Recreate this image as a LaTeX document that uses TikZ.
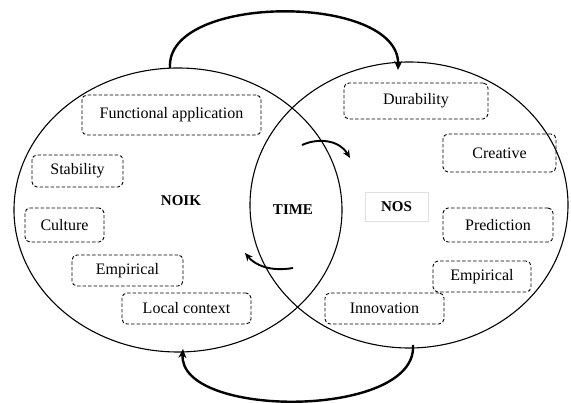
\documentclass[tikz,border=0pt]{standalone}
\usepackage{fontspec}
\setmainfont{Liberation Serif}
\usetikzlibrary{shapes.geometric,arrows.meta}
\begin{document}
\begin{tikzpicture}[x=1pt,y=1pt,
  oval/.style={draw,ellipse,line width=1.1pt,inner sep=0pt},
  dbox/.style={draw,dashed,dash pattern=on 3.5pt off 2pt,rounded corners=5pt,line width=0.9pt,
     font=\fontsize{16}{18}\selectfont,inner sep=0pt},
  lbl/.style={font=\fontsize{15}{17}\selectfont\bfseries},
  bigarrow/.style={line width=2.4pt,-{Stealth[length=9pt,width=8pt]}},
  smallarrow/.style={line width=1.9pt,-{Stealth[length=8pt,width=7pt]}}]
\useasboundingbox (0,0) rectangle (571,403);
\node[oval,minimum width=328pt,minimum height=284pt] (L) at (178,193) {};
\node[oval,minimum width=318pt,minimum height=286pt] (R) at (409,198) {};
% boxes
\node[dbox,minimum width=179pt,minimum height=40pt] (fa) at (171.5,288) {Functional application};
\node[dbox,minimum width=91pt,minimum height=32pt] (st) at (77.5,232) {Stability};
\node[dbox,minimum width=79pt,minimum height=34pt] (cu) at (64.5,178) {Culture};
\node[dbox,minimum width=111pt,minimum height=31pt] (el) at (127.5,132.5) {Empirical};
\node[dbox,minimum width=129pt,minimum height=31pt] (lc) at (186.5,94.5) {Local context};
\node[dbox,minimum width=144pt,minimum height=36pt] (du) at (416,302) {Durability};
\node[dbox,minimum width=113pt,minimum height=38pt] (cr) at (499.5,250) {Creative};
\node[dbox,minimum width=110pt,minimum height=34pt] (pr) at (498,178) {Prediction};
\node[dbox,minimum width=98pt,minimum height=31pt] (er) at (482,126.5) {Empirical};
\node[dbox,minimum width=119pt,minimum height=31pt] (in) at (384.5,94.5) {Innovation};
% labels
\node[lbl] (noik) at (181,202) {NOIK};
\node[lbl] (time) at (293,193) {TIME};
\node[draw=black!12,line width=0.8pt,minimum width=63pt,minimum height=29pt,inner sep=0pt,lbl] (nos) at (396.5,196.5) {NOS};
% connector endpoints
\coordinate (ta) at (170,335);
\coordinate (tb) at (398,333);
\coordinate (ba) at (413,58);
\coordinate (bb) at (183,54);
\coordinate (ua) at (302,258);
\coordinate (ub) at (350,245);
\coordinate (la) at (293,135);
\coordinate (lb) at (245,150);
\draw[bigarrow] (ta) .. controls (165,410) and (400,410) .. (tb);
\draw[bigarrow] (ba) .. controls (418,-16) and (178,-16) .. (bb);
\draw[smallarrow] (ua) .. controls (320,266) and (340,262) .. (ub);
\draw[smallarrow] (la) .. controls (270,131) and (255,138) .. (lb);
\end{tikzpicture}
\end{document}
